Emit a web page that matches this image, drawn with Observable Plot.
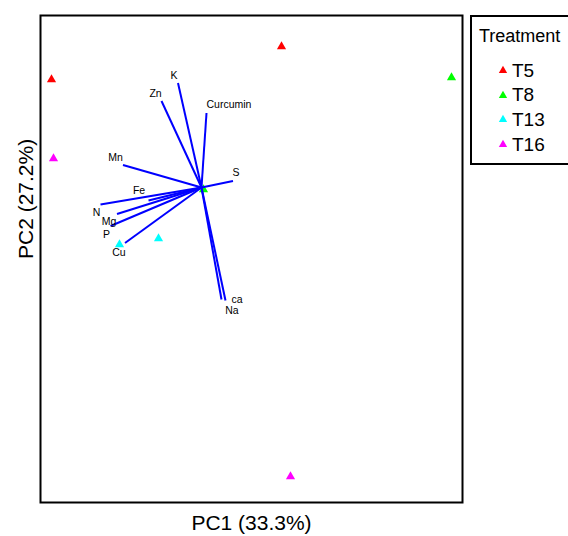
<!DOCTYPE html>
<html>
<head>
<meta charset="utf-8">
<script src="https://cdn.jsdelivr.net/npm/d3@7"></script>
<script src="https://cdn.jsdelivr.net/npm/@observablehq/plot@0.6"></script>
<style>
  html, body { margin: 0; padding: 0; background: #fff; }
  #wrap { position: relative; width: 568px; height: 536px; overflow: hidden; font-family: "Liberation Sans", Arial, sans-serif; }
  #legend { position: absolute; left: 470px; top: 15px; width: 110px; height: 150px; border: 2px solid #000; box-sizing: border-box; background: #fff; }
  .lg { position: absolute; white-space: nowrap; line-height: 1; }
</style>
</head>
<body>
<div id="wrap"></div>
<script>
// Scores (individuals)
const treatment = ["T5", "T5", "T8", "T8", "T13", "T13", "T16", "T16"];
const pc1 = [-3.0, 1.6, 5.0, 0.04, -1.64, -0.86, -2.96, 1.78];
const pc2 = [2.16, 2.82, 2.2, -0.04, -1.14, -1.02, 0.58, -5.78];

// Legend
const treatmentLevels = ["T5", "T8", "T13", "T16"];
const treatmentColors = ["#ff0000", "#00ff00", "#00ffff", "#ff00ff"];

// Loadings (variables)
const variables = ["K", "Zn", "Curcumin", "Mn", "S", "Fe", "N", "Mg", "P", "Cu", "ca", "Na"];
const loadPC1 = [-0.47, -0.80, 0.10, -1.57, 0.63, -1.06, -2.02, -1.69, -1.82, -1.53, 0.40, 0.48];
const loadPC2 = [2.09, 1.73, 1.49, 0.45, 0.13, -0.26, -0.34, -0.53, -0.77, -1.11, -2.24, -2.26];
const labelPC1 = [-0.55, -0.92, 0.55, -1.72, 0.69, -1.25, -2.10, -1.85, -1.90, -1.65, 0.71, 0.61];
const labelPC2 = [2.24, 1.87, 1.65, 0.59, 0.29, -0.07, -0.51, -0.69, -0.94, -1.31, -2.25, -2.46];

const axisTitles = ["PC1 (33.3%)", "PC2 (27.2%)"];

const scores = treatment.map((t, i) => ({t, x: pc1[i], y: pc2[i]}));
const loads = variables.map((v, i) => ({v, x: loadPC1[i], y: loadPC2[i], lx: labelPC1[i], ly: labelPC2[i]}));

const chart = Plot.plot({
  width: 568,
  height: 536,
  marginLeft: 40,
  marginTop: 15,
  marginRight: 106,
  marginBottom: 34,
  style: {fontFamily: "Liberation Sans, Arial, sans-serif", background: "white"},
  x: {axis: null, domain: [-3.22, 5.22]},
  y: {axis: null, domain: [-6.3, 3.44]},
  color: {domain: treatmentLevels, range: treatmentColors},
  marks: [
    Plot.dot(scores, {x: "x", y: "y", fill: "t", symbol: "triangle", r: 3.4, stroke: "none"}),
    Plot.link(loads, {x1: () => 0, y1: () => 0, x2: "x", y2: "y", stroke: "#0000ff", strokeWidth: 2}),
    Plot.text(loads, {x: "lx", y: "ly", text: "v", fontSize: 10.5, fill: "black"}),
    Plot.frame({stroke: "black", strokeWidth: 2}),
    Plot.text([axisTitles[0]], {frameAnchor: "bottom", dy: 27, fontSize: 21, fill: "black"}),
    Plot.text([axisTitles[1]], {frameAnchor: "left", dx: -14, rotate: -90, fontSize: 21, fill: "black"})
  ]
});

const wrap = document.getElementById("wrap");
wrap.appendChild(chart);

// Legend box
const legend = document.createElement("div");
legend.id = "legend";
wrap.appendChild(legend);
const title = document.createElement("div");
title.className = "lg";
title.textContent = "Treatment";
title.style.cssText = "left:7px;top:10px;font-size:18px;";
legend.appendChild(title);
const ys = [55, 79.7, 104.3, 129];
treatmentLevels.forEach((lv, i) => {
  const sym = document.createElementNS("http://www.w3.org/2000/svg", "svg");
  sym.setAttribute("width", "12");
  sym.setAttribute("height", "12");
  sym.style.cssText = `position:absolute;left:24.5px;top:${ys[i] - 6 - 2}px;`;
  const p = document.createElementNS("http://www.w3.org/2000/svg", "path");
  p.setAttribute("d", d3.symbol(d3.symbolTriangle, 30)());
  p.setAttribute("transform", "translate(6,6.5)");
  p.setAttribute("fill", treatmentColors[i]);
  sym.appendChild(p);
  legend.appendChild(sym);
  const tx = document.createElement("div");
  tx.className = "lg";
  tx.textContent = lv;
  tx.style.cssText = `left:40px;top:${ys[i] - 2 - 9.5}px;font-size:19px;`;
  legend.appendChild(tx);
});
</script>
</body>
</html>
